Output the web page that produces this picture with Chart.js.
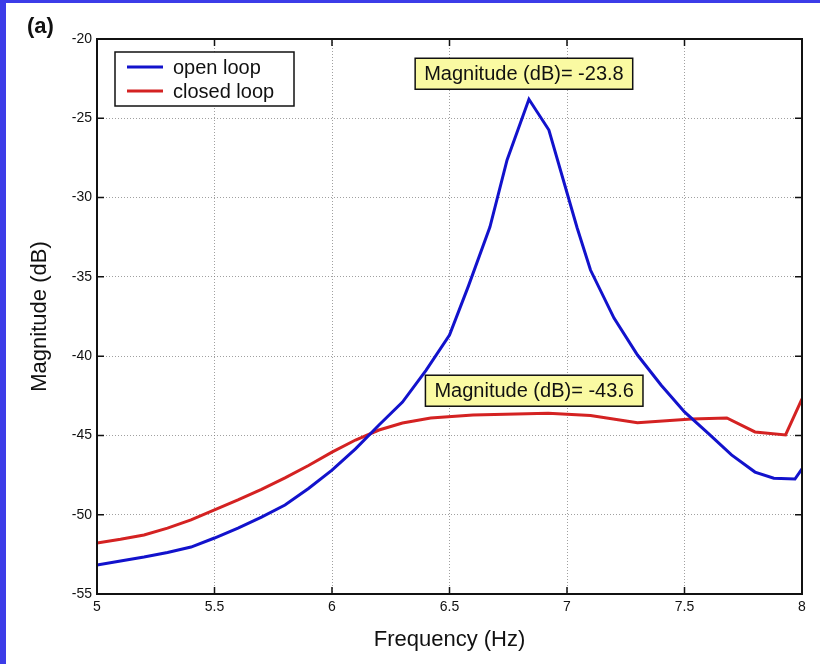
<!DOCTYPE html>
<html>
<head>
<meta charset="utf-8">
<script src="https://cdn.jsdelivr.net/npm/chart.js@4/dist/chart.umd.min.js"></script>
<style>
  body { margin: 0; background: #fff; }
  #wrap { position: relative; width: 820px; height: 664px; }
  #edge { position: absolute; left: 0; top: 0; width: 814px; height: 661px;
          border-left: 6px solid #3c3ce8; border-top: 3px solid #3c3ce8; pointer-events: none; }
</style>
</head>
<body>
<div id="wrap">
  <canvas id="bodeChart" width="820" height="664"></canvas>
  <div id="edge"></div>
</div>
<script>
// Frecuencias (Hz) y magnitudes (dB) de cada respuesta
const openFreq = [5.0, 5.1, 5.2, 5.3, 5.4, 5.5, 5.6, 5.7, 5.8, 5.9, 6.0, 6.1, 6.2, 6.3, 6.4, 6.5, 6.58, 6.672, 6.745, 6.838, 6.923, 7.043, 7.1, 7.2, 7.3, 7.4, 7.5, 7.6, 7.7, 7.8, 7.88, 7.97, 8.0];
const openMag = [-53.17, -52.92, -52.67, -52.38, -52.04, -51.47, -50.84, -50.15, -49.39, -48.35, -47.19, -45.85, -44.34, -42.9, -40.9, -38.67, -35.6, -31.86, -27.63, -23.8, -25.74, -31.9, -34.57, -37.6, -39.93, -41.82, -43.52, -44.85, -46.23, -47.31, -47.7, -47.75, -47.1];

const closedFreq = [5.0, 5.1, 5.2, 5.3, 5.4, 5.5, 5.6, 5.7, 5.8, 5.9, 6.0, 6.1, 6.2, 6.3, 6.42, 6.6, 6.92, 7.1, 7.3, 7.53, 7.68, 7.8, 7.93, 8.0];
const closedMag = [-51.78, -51.55, -51.28, -50.85, -50.33, -49.7, -49.07, -48.4, -47.68, -46.9, -46.05, -45.29, -44.66, -44.22, -43.9, -43.71, -43.6, -43.75, -44.2, -43.96, -43.9, -44.78, -44.97, -42.7];

const xTicks = [5, 5.5, 6, 6.5, 7, 7.5, 8];
const yTicks = [-55, -50, -45, -40, -35, -30, -25, -20];

// Cuadros de texto: [serie, índice del punto, desplazamiento x, separación]
const peakNotes = [
  [0, openFreq.indexOf(6.838), -5, 10],
  [1, closedFreq.indexOf(6.92), -14, 7]
];

const FONT = "'Liberation Sans', Arial, sans-serif";
const toPoints = (xs, ys) => xs.map((x, i) => ({ x: x, y: ys[i] }));

// Marco, marcas interiores, leyenda y cuadros de texto
const framePlugin = {
  id: "framePlugin",
  afterDraw(chart) {
    const ctx = chart.ctx;
    const a = chart.chartArea;
    const xs = chart.scales.x, ys = chart.scales.y;
    ctx.save();
    ctx.strokeStyle = "#111";
    ctx.lineWidth = 1.5;
    ctx.beginPath();
    xTicks.forEach((t) => {
      const px = xs.getPixelForValue(t);
      ctx.moveTo(px, a.bottom); ctx.lineTo(px, a.bottom - 7);
      ctx.moveTo(px, a.top); ctx.lineTo(px, a.top + 7);
    });
    yTicks.forEach((t) => {
      const py = ys.getPixelForValue(t);
      ctx.moveTo(a.left, py); ctx.lineTo(a.left + 7, py);
      ctx.moveTo(a.right, py); ctx.lineTo(a.right - 7, py);
    });
    ctx.stroke();
    ctx.lineWidth = 2;
    ctx.strokeRect(a.left, a.top, a.right - a.left, a.bottom - a.top);

    // leyenda
    const lx = 115, ly = 52;
    ctx.fillStyle = "#fff";
    ctx.fillRect(lx, ly, 179, 54);
    ctx.lineWidth = 1.5;
    ctx.strokeRect(lx, ly, 179, 54);
    ctx.font = "20px " + FONT;
    ctx.textBaseline = "middle";
    chart.data.datasets.forEach((ds, i) => {
      const yy = ly + 15 + i * 24;
      ctx.strokeStyle = ds.borderColor;
      ctx.lineWidth = 3;
      ctx.beginPath();
      ctx.moveTo(lx + 12, yy); ctx.lineTo(lx + 48, yy);
      ctx.stroke();
      ctx.fillStyle = "#111";
      ctx.fillText(ds.label, lx + 58, yy + 1);
    });

    // cuadros con la magnitud máxima
    peakNotes.forEach(([d, idx, dx, gap]) => {
      const pt = chart.data.datasets[d].data[idx];
      const px = xs.getPixelForValue(pt.x);
      const py = ys.getPixelForValue(pt.y);
      const text = "Magnitude (dB)= " + pt.y.toFixed(1);
      const w = ctx.measureText(text).width + 18;
      const h = 31;
      const bx = px + dx - w / 2, by = py - gap - h;
      ctx.fillStyle = "#fafaa2";
      ctx.fillRect(bx, by, w, h);
      ctx.strokeStyle = "#111";
      ctx.lineWidth = 1.5;
      ctx.strokeRect(bx, by, w, h);
      ctx.fillStyle = "#111";
      ctx.textAlign = "center";
      ctx.fillText(text, bx + w / 2, by + h / 2 + 1);
      ctx.textAlign = "left";
    });

    // etiqueta del panel
    ctx.font = "bold 22px " + FONT;
    ctx.fillStyle = "#111";
    ctx.textBaseline = "alphabetic";
    ctx.fillText("(a)", 27, 33);
    ctx.restore();
  }
};

const ctx = document.getElementById("bodeChart").getContext("2d");
new Chart(ctx, {
  type: "scatter",
  data: {
    datasets: [
      {
        label: "open loop",
        data: toPoints(openFreq, openMag),
        showLine: true,
        borderColor: "#1212cc",
        borderWidth: 3,
        pointRadius: 0,
        tension: 0,
      },
      {
        label: "closed loop",
        data: toPoints(closedFreq, closedMag),
        showLine: true,
        borderColor: "#d42222",
        borderWidth: 3,
        pointRadius: 0,
        tension: 0,
      },
    ],
  },
  options: {
    responsive: false,
    animation: false,
    devicePixelRatio: 1,
    layout: { padding: { left: 0, top: 39, right: 18, bottom: 0 } },
    plugins: {
      legend: { display: false },
      tooltip: { enabled: false },
    },
    scales: {
      x: {
        type: "linear",
        min: 5,
        max: 8,
        afterBuildTicks: (scale) => { scale.ticks = xTicks.map((v) => ({ value: v })); },
        afterFit: (scale) => { scale.height = 70; },
        ticks: {
          color: "#111",
          font: { family: FONT, size: 14 },
          padding: 5,
          callback: (v) => String(v),
        },
        grid: { color: "rgba(120,120,120,0.7)", lineWidth: 1, drawTicks: false },
        border: { display: false, dash: [1, 2] },
        title: {
          display: true,
          text: "Frequency (Hz)",
          color: "#111",
          font: { family: FONT, size: 22 },
          padding: { top: 0, bottom: 11 },
        },
      },
      y: {
        min: -55,
        max: -20,
        afterBuildTicks: (scale) => { scale.ticks = yTicks.map((v) => ({ value: v })); },
        afterFit: (scale) => { scale.width = 97; },
        ticks: {
          color: "#111",
          font: { family: FONT, size: 14 },
          padding: 5,
          callback: (v) => String(v),
        },
        grid: { color: "rgba(120,120,120,0.7)", lineWidth: 1, drawTicks: false },
        border: { display: false, dash: [1, 2] },
        title: {
          display: true,
          text: "Magnitude (dB)",
          color: "#111",
          font: { family: FONT, size: 22 },
          padding: { top: 27, bottom: 0 },
        },
      },
    },
  },
  plugins: [framePlugin],
});
</script>
</body>
</html>
